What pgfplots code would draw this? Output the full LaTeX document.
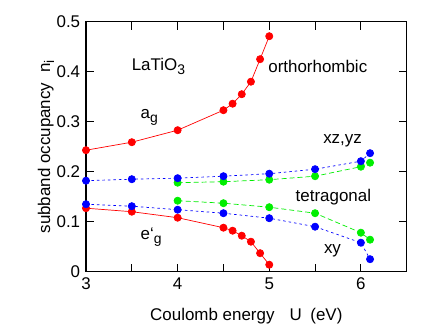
\documentclass[border=0pt]{standalone}
\usepackage{fontspec}
\setmainfont{Liberation Sans}
\usepackage{pgfplots}
\pgfplotsset{compat=1.18}
\definecolor{cred}{RGB}{255,0,0}
\definecolor{cgreen}{RGB}{0,238,0}
\definecolor{cblue}{RGB}{0,0,255}
\newcommand{\sub}[1]{\raisebox{-0.45ex}{\fontsize{14}{14}\selectfont #1}}

\begin{document}
\begin{tikzpicture}
\fontsize{17}{20}\selectfont
\begin{axis}[
  at={(0,0)}, anchor=south west,
  scale only axis,
  width=320.7bp, height=250bp,
  xmin=3, xmax=6.5, ymin=0, ymax=0.5,
  xtick={3,4,5,6},
  minor xtick={3.5,4.5,5.5},
  ytick={0,0.1,0.2,0.3,0.4,0.5},
  tick align=inside,
  major tick length=8bp, minor tick length=8bp,
  tick style={black, line width=0.9bp},
  axis line style={line width=1.2bp},
  yticklabel style={/pgf/number format/.cd, fixed, precision=1, assume math mode=true},
  xticklabel style={/pgf/number format/assume math mode=true},
  tick label style={font=\fontsize{17}{20}\selectfont},
  xlabel={Coulomb energy\hspace{0.9em}U\hspace{0.5em}(eV)},
  ylabel={subband occupancy\hspace{0.6em}n\sub{i}},
  label style={font=\fontsize{17}{20}\selectfont},
  xlabel style={yshift=-7bp},
  ylabel style={yshift=-9bp},
  every axis plot/.append style={line width=0.7bp},
  clip=false,
]
% red: orthorhombic a_g and e'_g
\addplot[cred, mark=*, mark size=3.6bp, mark options={solid, draw=none, fill=cred}] coordinates {
 (3,0.243) (3.5,0.259) (4,0.283) (4.5,0.323) (4.6,0.336) (4.7,0.355) (4.8,0.380) (4.9,0.425) (5,0.471)};
\addplot[cred, mark=*, mark size=3.6bp, mark options={solid, draw=none, fill=cred}] coordinates {
 (3,0.127) (3.5,0.120) (4,0.108) (4.5,0.088) (4.6,0.082) (4.7,0.072) (4.8,0.060) (4.9,0.037) (5,0.014)};
% green
\addplot[cgreen, dash pattern=on 5bp off 3bp, mark=*, mark size=3.6bp, mark options={solid, draw=none, fill=cgreen}] coordinates {
 (4,0.178) (4.5,0.180) (5,0.184) (5.5,0.191) (6,0.210) (6.1,0.218)};
\addplot[cgreen, dash pattern=on 5bp off 3bp, mark=*, mark size=3.6bp, mark options={solid, draw=none, fill=cgreen}] coordinates {
 (4,0.142) (4.5,0.137) (5,0.129) (5.5,0.117) (6,0.078) (6.1,0.064)};
% blue
\addplot[cblue, dash pattern=on 2.5bp off 3bp, mark=*, mark size=3.6bp, mark options={solid, draw=none, fill=cblue}] coordinates {
 (3,0.182) (3.5,0.185) (4,0.187) (4.5,0.191) (5,0.196) (5.5,0.205) (6,0.221) (6.1,0.237)};
\addplot[cblue, dash pattern=on 2.5bp off 3bp, mark=*, mark size=3.6bp, mark options={solid, draw=none, fill=cblue}] coordinates {
 (3,0.135) (3.5,0.131) (4,0.124) (4.5,0.117) (5,0.107) (5.5,0.090) (6,0.058) (6.1,0.025)};

\node at (axis cs:3.79,0.411) {LaTiO\sub{3}};
\node at (axis cs:5.53,0.411) {orthorhombic};
\node at (axis cs:3.69,0.308) {a\sub{g}};
\node at (axis cs:5.80,0.262) {xz,yz};
\node at (axis cs:5.70,0.150) {tetragonal};
\node at (axis cs:3.71,0.069) {e‘\sub{g}};
\node at (axis cs:5.69,0.041) {xy};
\end{axis}
\pgfresetboundingbox
\path (-86bp,-55.3bp) rectangle (350bp,271.7bp);
\end{tikzpicture}
\end{document}
